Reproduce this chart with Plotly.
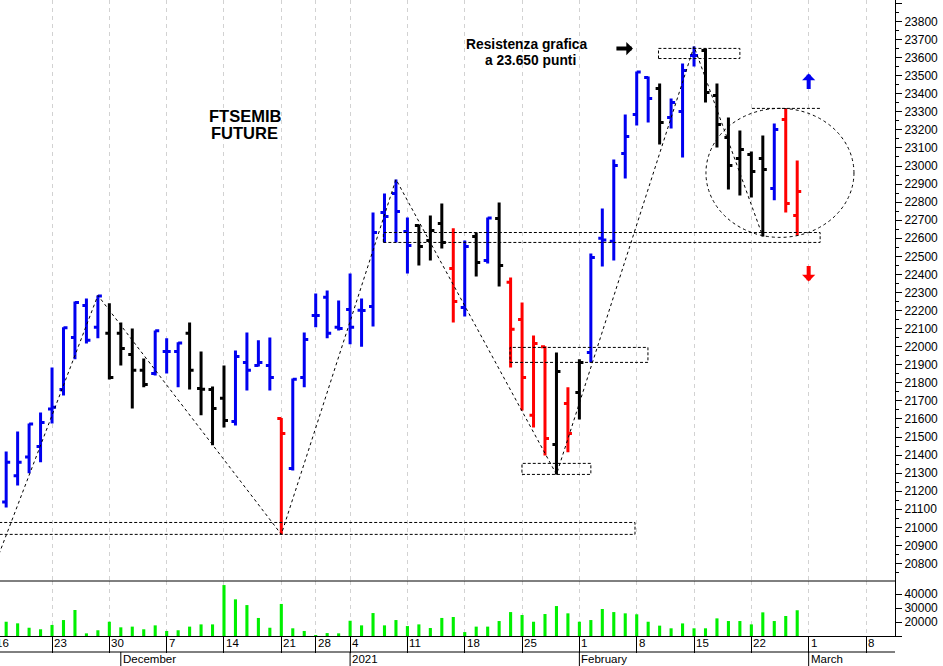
import plotly.graph_objects as go

# ---------------- data (trading-day index: 0 = Mon 16 Nov 2020) ----------------
BAR_IDX = list(range(1, 71))
OPEN = [21140, 21285, 21390, 21448, 21655, 21763, 22051, 22228, 22107, 22074,
        22074, 21957, 21869, 21852, 21974, 21974, 22074, 21769, 21763, 21714,
        21586, 21913, 21896, 21896, 21603, 21326, 21830, 22173, 22273, 22107,
        22206, 22201, 22223, 22743, 22848, 22638, 22671, 22588, 22682, 22433,
        22217, 22610, 22477, 22710, 22356, 22151, 21620, 22000, 21459, 21686,
        21747, 21968, 22600, 22583, 23069, 23285, 23490, 23429, 23269, 23302,
        23612, 23640, 23390, 23158, 23042, 23064, 23042, 22876, 23258, 22726]
HIGH = [21420, 21530, 21575, 21636, 21885, 22107, 22250, 22267, 22284, 22240,
        22134, 22101, 21935, 22090, 22046, 22024, 22134, 21974, 21780, 21896,
        21979, 22079, 22035, 22051, 21605, 21824, 22079, 22295, 22311, 22256,
        22405, 22267, 22743, 22848, 22926, 22715, 22677, 22726, 22793, 22655,
        22588, 22632, 22715, 22798, 22383, 22245, 22062, 22002, 21968, 21775,
        21930, 22516, 22765, 23036, 23285, 23523, 23496, 23457, 23374, 23568,
        23662, 23650, 23457, 23269, 23197, 23081, 23169, 23235, 23319, 23031]
LOW = [21110, 21232, 21300, 21360, 21575, 21730, 21930, 22018, 22046, 21819,
       21896, 21658, 21775, 21841, 21852, 21775, 21763, 21620, 21454, 21553,
       21564, 21758, 21890, 21758, 20961, 21315, 21775, 22107, 22046, 22090,
       22013, 22000, 22112, 22577, 22577, 22405, 22450, 22477, 22544, 22134,
       22167, 22389, 22461, 22333, 21885, 21647, 21553, 21398, 21293, 21415,
       21597, 21913, 22444, 22477, 22931, 23224, 23241, 23119, 23208, 23047,
       23551, 23352, 23103, 22870, 22837, 22826, 22610, 22810, 22743, 22615]
CLOSE = [21360, 21360, 21572, 21581, 21665, 22105, 22245, 22035, 22280, 21830,
         21990, 21869, 21791, 22088, 21974, 22020, 21869, 21765, 21658, 21592,
         21946, 21869, 21913, 21830, 21520, 21820, 22040, 22173, 22074, 22100,
         22107, 22200, 22632, 22721, 22748, 22560, 22555, 22643, 22577, 22250,
         22555, 22466, 22712, 22450, 22096, 21830, 22018, 21492, 21863, 21520,
         21913, 22494, 22590, 23003, 23164, 23520, 23374, 23241, 23352, 23529,
         23612, 23407, 23230, 23003, 23092, 22970, 22981, 23202, 22793, 22859]
BAR_COLOR = list("bbbbbbbbbkkkkbbbkkkkbbbbrbbbbbbbbbbbkkkrbkbkrrrrkrkbbbbbbkbbbkkkkkkbrr")
VOLUME = [20200, 19050, 15900, 14800, 17900, 21400, 28600, 11900, 14100, 20200,
          16200, 16700, 14800, 17600, 13600, 14100, 16700, 18300, 18300, 46400,
          36200, 32100, 22900, 15900, 32900, 15500, 13600, 10700, 12100, 11900,
          20900, 17600, 26400, 17600, 21400, 17100, 18300, 15700, 22900, 23600,
          12800, 16700, 16700, 20700, 27100, 25000, 20200, 25700, 31400, 26200,
          20200, 21400, 29300, 27100, 26200, 25500, 20200, 17400, 15500, 19000,
          15500, 15500, 22600, 20700, 20700, 18300, 26900, 20700, 24300, 28400]

WEEK_IDX = [0, 5, 10, 15, 20, 25, 28, 31, 36, 41, 46, 51, 56, 61, 66, 71, 76]
WEEK_LABELS = ["16", "23", "30", "7", "14", "21", "28", "4", "11", "18", "25",
               "1", "8", "15", "22", "1", "8"]
MONTH_IDX = [11, 31, 51, 71]
MONTH_LABELS = ["December", "2021", "February", "March"]

PRICE_TICKS = list(range(20700, 24000, 100))
PRICE_TICKTEXT = [str(v) if 20800 <= v <= 23800 else "" for v in PRICE_TICKS]
PRICE_MINOR = list(range(20750, 23950, 100))
VOL_TICKS = [10000, 20000, 30000, 40000]
VOL_TICKTEXT = ["", "20000", "30000", "40000"]

# chart annotations (trading-day index / price levels)
ZIGZAG_X = [0, 9, 25, 35, 49, 61, 67]
ZIGZAG_Y = [20790, 22284, 20961, 22926, 21293, 23662, 22610]
RECT_X0 = [0.0, 33.9, 44.95, 45.99, 57.9]
RECT_X1 = [55.85, 72.0, 56.98, 52.0, 65.0]
RECT_Y0 = [20961, 22577, 21913, 21293, 23595]
RECT_Y1 = [21027, 22632, 21996, 21354, 23651]
ELLIPSE = dict(x0=62.04, x1=74.95, y0=22605, y1=23319)
TOPLINE = dict(x0=66.05, x1=71.98, y=23319)
TEXTS = [("FTSEMIB", 21.83, 23276, 16.5), ("FUTURE", 21.83, 23182, 16.5),
         ("Resistenza grafica", 46.43, 23672, 13.8), ("a 23.650 punti", 46.7, 23583, 13.8)]
ARROWS = [(55.67, 23650, -18, 0, "black"), (71.0, 23512, 0, 17, "#0000f0"),
          (71.0, 22361, 0, -17, "#ff0000")]

COLORS = {"b": "#0000f0", "k": "#000000", "r": "#ff0000"}
GREEN = "#00f000"
FONT = "Liberation Sans, Arial, sans-serif"
AXFONT = dict(size=11.5, color="black", family=FONT)

fig = go.Figure()
for key, col in COLORS.items():
    sel = [i for i, c in enumerate(BAR_COLOR) if c == key]
    fig.add_trace(go.Ohlc(
        x=[BAR_IDX[i] for i in sel], open=[OPEN[i] for i in sel],
        high=[HIGH[i] for i in sel], low=[LOW[i] for i in sel],
        close=[CLOSE[i] for i in sel],
        increasing=dict(line=dict(color=col, width=3)),
        decreasing=dict(line=dict(color=col, width=3)),
        tickwidth=0.35, hoverinfo="skip", showlegend=False,
        xaxis="x", yaxis="y"))

fig.add_trace(go.Bar(x=BAR_IDX, y=VOLUME, width=0.27,
                     marker=dict(color=GREEN, line=dict(width=0)),
                     xaxis="x", yaxis="y2", showlegend=False, hoverinfo="skip"))

fig.add_trace(go.Scatter(x=ZIGZAG_X, y=ZIGZAG_Y, mode="lines",
                         line=dict(color="black", width=1, dash="3px,3px"),
                         xaxis="x", yaxis="y", showlegend=False, hoverinfo="skip"))

shapes = []
for x0, x1, y0, y1 in zip(RECT_X0, RECT_X1, RECT_Y0, RECT_Y1):
    shapes.append(dict(type="rect", xref="x", yref="y", x0=x0, x1=x1, y0=y0, y1=y1,
                       line=dict(color="black", width=1, dash="3px,2px")))
shapes.append(dict(type="circle", xref="x", yref="y", **ELLIPSE,
                   line=dict(color="black", width=1, dash="3px,3px")))
shapes.append(dict(type="line", xref="x", yref="y", x0=TOPLINE["x0"], x1=TOPLINE["x1"],
                   y0=TOPLINE["y"], y1=TOPLINE["y"],
                   line=dict(color="black", width=1, dash="3px,2px")))
# separator between price and volume panel
shapes.append(dict(type="line", xref="paper", x0=0, x1=1, yref="y2 domain", y0=1, y1=1,
                   line=dict(color="black", width=1)))
# line under the day labels
shapes.append(dict(type="line", xref="paper", x0=0, x1=1, yref="paper",
                   ysizemode="pixel", yanchor=0, y0=-16, y1=-16,
                   line=dict(color="black", width=1)))
for m in MONTH_IDX:
    shapes.append(dict(type="line", xref="x", x0=m, x1=m, yref="paper",
                       ysizemode="pixel", yanchor=0, y0=-16, y1=-30,
                       line=dict(color="black", width=1)))

annotations = []
for d, t in zip(WEEK_IDX, WEEK_LABELS):
    if d == 0:
        annotations.append(dict(x=0, xref="paper", xshift=-5, y=0, yref="paper",
                                yshift=0, xanchor="left", yanchor="top", text=t,
                                borderpad=0, showarrow=False, font=AXFONT))
    else:
        annotations.append(dict(x=d, xref="x", xshift=1, y=0, yref="paper", yshift=0,
                                xanchor="left", yanchor="top", text=t, showarrow=False,
                                borderpad=0, font=AXFONT))
for m, t in zip(MONTH_IDX, MONTH_LABELS):
    annotations.append(dict(x=m, xref="x", xshift=1, y=0, yref="paper", yshift=-30,
                            xanchor="left", yanchor="bottom", text=t, showarrow=False,
                            borderpad=0, font=AXFONT))
for t, x, y, s in TEXTS:
    annotations.append(dict(x=x, y=y, xref="x", yref="y", text="<b>%s</b>" % t,
                            showarrow=False, xanchor="center", yanchor="middle",
                            font=dict(size=s, color="black", family=FONT)))
for x, y, ax, ay, col in ARROWS:
    annotations.append(dict(x=x, y=y, xref="x", yref="y", ax=ax, ay=ay, text="",
                            showarrow=True, arrowhead=1, arrowsize=0.55, arrowwidth=4,
                            arrowcolor=col, standoff=0))

fig.update_layout(
    width=943, height=666,
    margin=dict(l=0, r=48, t=0, b=30, pad=0),
    paper_bgcolor="white", plot_bgcolor="white", showlegend=False,
    font=dict(family=FONT, size=12, color="black"),
    shapes=shapes, annotations=annotations,
    xaxis=dict(range=[0.462, 78.53], anchor="y2", tickmode="array", tickvals=WEEK_IDX,
               showticklabels=False, ticks="outside", ticklen=16, tickcolor="black",
               tickwidth=1, showgrid=True, gridcolor="#d2d2d2", griddash="4px,4px",
               gridwidth=1, showline=True, linecolor="black", linewidth=1,
               zeroline=False, rangeslider=dict(visible=False), fixedrange=True),
    yaxis=dict(domain=[55 / 636, 1], anchor="x", side="right", range=[20703, 23919],
               tickmode="array", tickvals=PRICE_TICKS, ticktext=PRICE_TICKTEXT,
               ticks="outside", ticklen=6, tickcolor="black", showline=True,
               linecolor="black", linewidth=1, showgrid=False, zeroline=False,
               tickfont=dict(size=12, color="black", family=FONT),
               minor=dict(tickmode="array", tickvals=PRICE_MINOR, ticks="outside",
                          ticklen=3, tickcolor="black", showgrid=False)),
    yaxis2=dict(domain=[0, 55 / 636], anchor="x", side="right", range=[10000, 49300],
                tickmode="array", tickvals=VOL_TICKS, ticktext=VOL_TICKTEXT,
                ticks="outside", ticklen=6, tickcolor="black", showline=True,
                linecolor="black", linewidth=1, showgrid=False, zeroline=False,
                tickfont=dict(size=12, color="black", family=FONT)),
)

fig.write_html("out.html", config={"displayModeBar": False},
               post_script="document.body.style.margin='0';document.body.style.overflow='hidden';")
